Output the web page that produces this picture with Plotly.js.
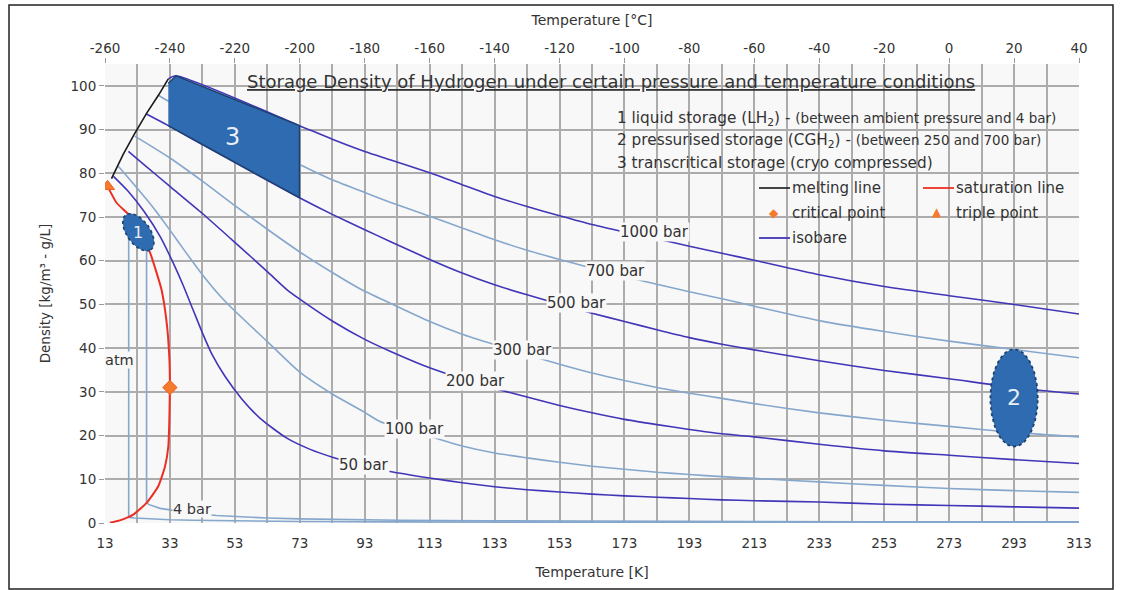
<!DOCTYPE html>
<html>
<head>
<meta charset="utf-8">
<script src="https://cdn.plot.ly/plotly-3.0.1.min.js"></script>
<style>html,body{margin:0;padding:0;background:#fff;}#chart{width:1123px;height:590px;}</style>
</head>
<body>
<div id="chart"></div>
<script>
// ---------- DATA (Temperature in K, density in kg/m3) ----------
const meltT = [15.0, 18.6, 22.0, 25.8, 29.5, 32.5];
const meltD = [78.8, 84.3, 88.9, 93.7, 97.9, 101.6];

const satT = [13.8, 16.6, 20.0, 23.0, 25.0, 26.9, 28.5, 30.4, 32.0, 32.8, 33.0, 32.9, 32.8, 32.5, 31.5, 29.4, 25.8, 21.7, 17.6, 14.5];
const satD = [77.0, 73.2, 70.8, 67.6, 65.0, 61.8, 58.2, 53.4, 45.8, 38.1, 31.0, 27.0, 22.9, 17.5, 13.0, 8.4, 4.6, 1.9, 0.6, 0.05];

const critT = [33.0];  const critD = [31.0];
const tripT = [13.8];  const tripD = [77.0];

const iso1000T = [32.5, 34.9, 72.9, 83, 93, 100.8, 113, 123, 133, 143, 153, 163, 173, 183, 193, 203, 213, 233, 253, 273, 293, 313];
const iso1000D = [101.6, 102.3, 90.9, 87.8, 85.0, 83.1, 80.1, 77.4, 74.7, 72.4, 70.3, 68.3, 66.6, 65.0, 63.3, 61.7, 60.1, 56.8, 54.1, 52.0, 50.0, 47.8];

const iso700T = [29.6, 32.5, 50, 72.9, 83, 93, 100.8, 113, 123, 133, 143, 153, 163, 173, 183, 193, 203, 213, 233, 253, 273, 293, 313];
const iso700D = [97.8, 96.5, 90.0, 82.0, 78.5, 75.6, 73.4, 70.2, 67.5, 64.8, 62.4, 60.3, 58.3, 56.4, 54.6, 52.9, 51.3, 49.6, 46.3, 43.8, 41.6, 39.7, 37.8];

const iso500T = [25.6, 32.5, 50, 72.9, 83, 93, 100.8, 113, 123, 133, 143, 153, 163, 173, 183, 193, 203, 213, 233, 253, 273, 293, 313];
const iso500D = [93.6, 90.9, 83.7, 74.4, 70.6, 67.1, 64.4, 60.3, 57.2, 54.5, 52.2, 50.1, 48.0, 46.1, 44.2, 42.4, 40.9, 39.6, 37.1, 34.9, 33.0, 31.0, 29.5];

const iso300T = [22.2, 33, 43, 53, 63, 73, 83, 91.5, 100.8, 113, 123, 133, 143, 153, 163, 173, 183, 193, 203, 213, 233, 253, 273, 293, 313];
const iso300D = [88.5, 83.5, 78.2, 72.6, 67.2, 62.0, 57.3, 53.6, 50.3, 46.1, 43.2, 40.8, 38.5, 36.3, 34.3, 32.6, 31.0, 29.7, 28.5, 27.3, 25.2, 23.5, 22.1, 20.7, 19.7];

const iso200T = [20.2, 25, 33, 43, 53, 63, 69, 73, 83, 93, 100.8, 113, 123, 133, 143, 153, 163, 173, 183, 193, 203, 213, 233, 253, 273, 293, 313];
const iso200D = [85.0, 82.0, 77.0, 70.8, 64.2, 57.5, 53.4, 51.2, 46.2, 42.0, 39.3, 35.5, 33.0, 30.8, 28.8, 26.9, 25.2, 23.7, 22.5, 21.4, 20.4, 19.7, 18.0, 16.5, 15.5, 14.5, 13.6];

const iso100T = [17.1, 23, 28, 33, 38, 43, 48.4, 53, 63, 73, 83, 93, 97.7, 108, 113, 123, 133, 143, 153, 163, 173, 183, 193, 203, 213, 233, 253, 273, 293, 313];
const iso100D = [81.6, 76.5, 72.0, 67.0, 61.8, 56.8, 52.0, 48.5, 41.5, 34.5, 29.5, 25.3, 23.2, 20.8, 19.8, 17.6, 16.0, 14.9, 13.9, 13.0, 12.3, 11.6, 11.1, 10.6, 10.2, 9.4, 8.6, 7.9, 7.4, 7.0];

const iso50T = [15.6, 20, 25, 30, 34, 37, 40, 43, 46, 50, 55, 60.7, 69, 76, 83.3, 92, 100.8, 113, 123, 133, 143, 153, 163, 173, 183, 193, 203, 213, 233, 253, 273, 293, 313];
const iso50D = [79.3, 76.0, 71.3, 65.5, 59.5, 54.5, 49.0, 43.5, 38.5, 33.5, 28.5, 24.0, 19.4, 16.9, 15.0, 13.2, 11.8, 10.3, 9.2, 8.3, 7.6, 7.1, 6.6, 6.2, 5.9, 5.6, 5.3, 5.1, 4.8, 4.3, 4.0, 3.7, 3.4];

const iso4T = [25.8, 25.8, 26.6, 28, 30, 33, 36, 40, 47.4, 55, 63, 73, 90, 103.8, 130, 160, 200, 250, 313];
const iso4D = [64.5, 4.6, 4.2, 3.8, 3.35, 3.0, 2.6, 2.2, 1.7, 1.4, 1.15, 0.95, 0.75, 0.62, 0.5, 0.42, 0.35, 0.3, 0.26];

const isoAtmT = [20.3, 20.3, 22, 25, 29, 33, 40, 50, 73, 100, 150, 200, 313];
const isoAtmD = [70.8, 1.33, 1.15, 1.0, 0.85, 0.75, 0.62, 0.5, 0.34, 0.25, 0.17, 0.12, 0.08];

const isoLabels = ['1000 bar', '700 bar', '500 bar', '300 bar', '200 bar', '100 bar', '50 bar', '4 bar', 'atm'];

// storage regions
const region3T = [32.5, 34.9, 72.9, 72.9, 32.5];
const region3D = [100.6, 102.3, 90.9, 74.4, 90.9];
const region2Center = [293, 28.6];   const region2Radii = [7.3, 11.1];
const region1Center = [23.3, 66.5];  const region1AxisA = [3.85, -4.0]; const region1AxisB = [2.9, 1.55];

const xGridK = [13, 23, 33, 43, 53, 63, 73, 83, 93, 103, 113, 123, 133, 143, 153, 163, 173, 183, 193, 203, 213, 223, 233, 243, 253, 263, 273, 283, 293, 303, 313];
const xTicksK = [13, 33, 53, 73, 93, 113, 133, 153, 173, 193, 213, 233, 253, 273, 293, 313];
const xTicksC = [-260, -240, -220, -200, -180, -160, -140, -120, -100, -80, -60, -40, -20, 0, 20, 40];

// ---------- STYLE ----------
const FONT = 'DejaVu Sans, Liberation Sans, Arial, sans-serif';
const TXT = '#333333';
const DARK = '#4136b8';
const LIGHT = '#86a7cc';
const RED = '#ec2f24';
const ORANGE = '#f47a2c';
const FILL = '#2f6bb0';
const EDGE = '#1d426f';
const GRID = '#acacac';
const PBG = '#f8f8f8';

function line(x, y, color, w, shape) {
  return {type: 'scatter', mode: 'lines', x: x, y: y, line: {color: color, width: w || 1.6, shape: shape || 'spline', smoothing: 0.6}, hoverinfo: 'skip', showlegend: false};
}
function ellipse(c, a, b, n) {
  const xs = [], ys = [];
  for (let i = 0; i <= n; i++) {
    const t = 2 * Math.PI * i / n;
    xs.push(c[0] + a[0] * Math.cos(t) + b[0] * Math.sin(t));
    ys.push(c[1] + a[1] * Math.cos(t) + b[1] * Math.sin(t));
  }
  return [xs, ys];
}

const traces = [
  line(isoAtmT, isoAtmD, LIGHT, 1.6, 'linear'),
  line(iso4T, iso4D, LIGHT, 1.6, 'linear'),
  line(iso50T, iso50D, DARK),
  line(iso100T, iso100D, LIGHT),
  line(iso200T, iso200D, DARK),
  line(iso300T, iso300D, LIGHT),
  line(iso500T, iso500D, DARK),
  line(iso700T, iso700D, LIGHT),
  line(iso1000T, iso1000D, DARK),
  {type: 'scatter', mode: 'lines', x: meltT, y: meltD, line: {color: '#1a1a1a', width: 1.6}, hoverinfo: 'skip', showlegend: false},
  {type: 'scatter', mode: 'lines', x: satT, y: satD, line: {color: RED, width: 2, shape: 'spline', smoothing: 0.5}, hoverinfo: 'skip', showlegend: false},
  {type: 'scatter', mode: 'markers', x: critT, y: critD, marker: {symbol: 'diamond', size: 11, color: ORANGE, line: {color: '#f25c1e', width: 1}}, hoverinfo: 'skip', showlegend: false},
  {type: 'scatter', mode: 'markers', x: tripT, y: tripD, marker: {symbol: 'triangle-up', size: 12, color: ORANGE, line: {color: '#f25c1e', width: 1}}, hoverinfo: 'skip', showlegend: false},
  {type: 'scatter', mode: 'lines', x: region3T, y: region3D, fill: 'toself', fillcolor: FILL, line: {color: EDGE, width: 1.5}, hoverinfo: 'skip', showlegend: false}
];
const e2 = ellipse(region2Center, [region2Radii[0], 0], [0, region2Radii[1]], 80);
traces.push({type: 'scatter', mode: 'lines', x: e2[0], y: e2[1], fill: 'toself', fillcolor: FILL, line: {color: EDGE, width: 1.8, dash: 'dot'}, hoverinfo: 'skip', showlegend: false});
const e1 = ellipse(region1Center, region1AxisA, region1AxisB, 60);
traces.push({type: 'scatter', mode: 'lines', x: e1[0], y: e1[1], fill: 'toself', fillcolor: FILL, line: {color: EDGE, width: 1.6, dash: 'dot'}, hoverinfo: 'skip', showlegend: false});
// dummy trace for top axis
traces.push({type: 'scatter', mode: 'lines', x: [xTicksC[0], xTicksC[xTicksC.length - 1]], y: [null, null], xaxis: 'x2', yaxis: 'y', hoverinfo: 'skip', showlegend: false});

// pixel helpers for paper-positioned decorations
const ML = 105, MR = 44, MT = 64, MB = 67, W = 1123, H = 590;
const PW = W - ML - MR, PH = H - MT - MB;
const px = v => (v - ML) / PW;
const py = v => (H - MB - v) / PH;

function lbl(text, x, y, size, extra) {
  return Object.assign({text: text, x: x, y: y, xref: 'x', yref: 'y', showarrow: false, font: {family: FONT, size: size || 15, color: TXT}, bgcolor: PBG, borderpad: 0}, extra || {});
}
function ptxt(text, x, y, size, extra) {
  return Object.assign({text: text, x: px(x), y: py(y), xref: 'paper', yref: 'paper', showarrow: false, xanchor: 'left', yanchor: 'middle', font: {family: FONT, size: size || 15, color: TXT}}, extra || {});
}

const annotations = [
  lbl(isoLabels[0], 182.1, 66.6),
  lbl(isoLabels[1], 170.1, 57.6),
  lbl(isoLabels[2], 158.1, 50.4),
  lbl(isoLabels[3], 141.7, 39.6),
  lbl(isoLabels[4], 127.0, 32.4),
  lbl(isoLabels[5], 108.2, 21.6),
  lbl(isoLabels[6], 92.8, 13.2),
  lbl(isoLabels[7], 39.8, 3.3, 14.5),
  lbl(isoLabels[8], 17.6, 37.4, 14.5),
  {text: '3', x: 52.4, y: 88.2, xref: 'x', yref: 'y', showarrow: false, font: {family: FONT, size: 24, color: '#e8eef7'}},
  {text: '2', x: region2Center[0], y: region2Center[1], xref: 'x', yref: 'y', showarrow: false, font: {family: FONT, size: 22, color: '#e8eef7'}},
  {text: '1', x: region1Center[0], y: region1Center[1], xref: 'x', yref: 'y', showarrow: false, font: {family: FONT, size: 16, color: '#e8eef7'}},
  {text: 'Storage Density of Hydrogen under certain pressure and temperature conditions', x: px(611), y: py(82), xref: 'paper', yref: 'paper', showarrow: false, xanchor: 'center', yanchor: 'middle', font: {family: FONT, size: 18, color: TXT, lineposition: 'under'}},
  ptxt('1 liquid storage (LH<sub>2</sub>) - <span style="font-size:13.5px">(between ambient pressure and 4 bar)</span>', 615, 119, 15.3),
  ptxt('2 pressurised storage (CGH<sub>2</sub>) - <span style="font-size:13.5px">(between 250 and 700 bar)</span>', 615, 141, 15.3),
  ptxt('3 transcritical storage (cryo compressed)', 615, 163, 15.3),
  ptxt('melting line', 790, 188, 15),
  ptxt('saturation line', 954, 188, 15),
  ptxt('critical point', 790, 213, 15),
  ptxt('triple point', 954, 213, 15),
  ptxt('isobare', 790, 238, 15),
  ptxt('◆', 767, 213, 12, {font: {family: FONT, size: 12, color: ORANGE}}),
  ptxt('▲', 930, 212, 12, {font: {family: FONT, size: 12, color: ORANGE}})
];

const shapes = [
  // boxes hiding the grid behind the texts
  {type: 'rect', xref: 'paper', yref: 'paper', x0: px(236), x1: px(988), y0: py(96), y1: py(69), fillcolor: PBG, line: {width: 0}, layer: 'between'},
  {type: 'rect', xref: 'paper', yref: 'paper', x0: px(612), x1: px(1078), y0: py(173), y1: py(104), fillcolor: PBG, line: {width: 0}, layer: 'between'},
  {type: 'rect', xref: 'paper', yref: 'paper', x0: px(748), x1: px(1078), y0: py(250), y1: py(173), fillcolor: PBG, line: {width: 0}, layer: 'between'},
  // legend samples
  {type: 'line', xref: 'paper', yref: 'paper', x0: px(759), x1: px(790), y0: py(188), y1: py(188), line: {color: '#1a1a1a', width: 1.6}},
  {type: 'line', xref: 'paper', yref: 'paper', x0: px(923), x1: px(954), y0: py(188), y1: py(188), line: {color: RED, width: 1.8}},
  {type: 'line', xref: 'paper', yref: 'paper', x0: px(759), x1: px(790), y0: py(238), y1: py(238), line: {color: DARK, width: 1.8}},
  // outer frame
  {type: 'rect', xref: 'paper', yref: 'paper', x0: px(9), x1: px(1113), y0: py(589), y1: py(5), line: {color: '#222', width: 1.5}, fillcolor: 'rgba(0,0,0,0)', layer: 'above'}
];

const axisFont = {family: FONT, size: 13.5, color: TXT};
const layout = {
  width: W, height: H,
  margin: {l: ML, r: MR, t: MT, b: MB},
  paper_bgcolor: '#ffffff', plot_bgcolor: PBG,
  showlegend: false,
  xaxis: {
    range: [13, 313], tickmode: 'array', tickvals: xGridK,
    ticktext: xGridK.map(v => xTicksK.indexOf(v) >= 0 ? String(v) : ''),
    tickfont: axisFont, ticks: 'outside', ticklen: 8, tickcolor: 'rgba(0,0,0,0)',
    showgrid: true, gridcolor: GRID, gridwidth: 2,
    zeroline: false, showline: false,
    title: {text: 'Temperature [K]', font: {family: FONT, size: 14, color: TXT}, standoff: 16}
  },
  xaxis2: {
    overlaying: 'x', side: 'top', anchor: 'y',
    range: [13 - 273, 313 - 273], tickvals: xTicksC, ticktext: xTicksC.map(String),
    tickfont: axisFont, ticks: 'outside', ticklen: 5, tickcolor: '#9a9a9a',
    showgrid: false, zeroline: false, showline: false,
    title: {text: 'Temperature [°C]', font: {family: FONT, size: 14, color: TXT}, standoff: 10}
  },
  yaxis: {
    range: [0, 105], tick0: 0, dtick: 10, tickfont: axisFont,
    ticks: 'outside', ticklen: 5, tickcolor: '#9a9a9a',
    showgrid: true, gridcolor: GRID, gridwidth: 2, zeroline: false, showline: false,
    title: {text: 'Density [kg/m³ - g/L]', font: {family: FONT, size: 13.5, color: TXT}, standoff: 16}
  },
  annotations: annotations,
  shapes: shapes
};

Plotly.newPlot('chart', traces, layout, {displayModeBar: false, staticPlot: true});
</script>
</body>
</html>
